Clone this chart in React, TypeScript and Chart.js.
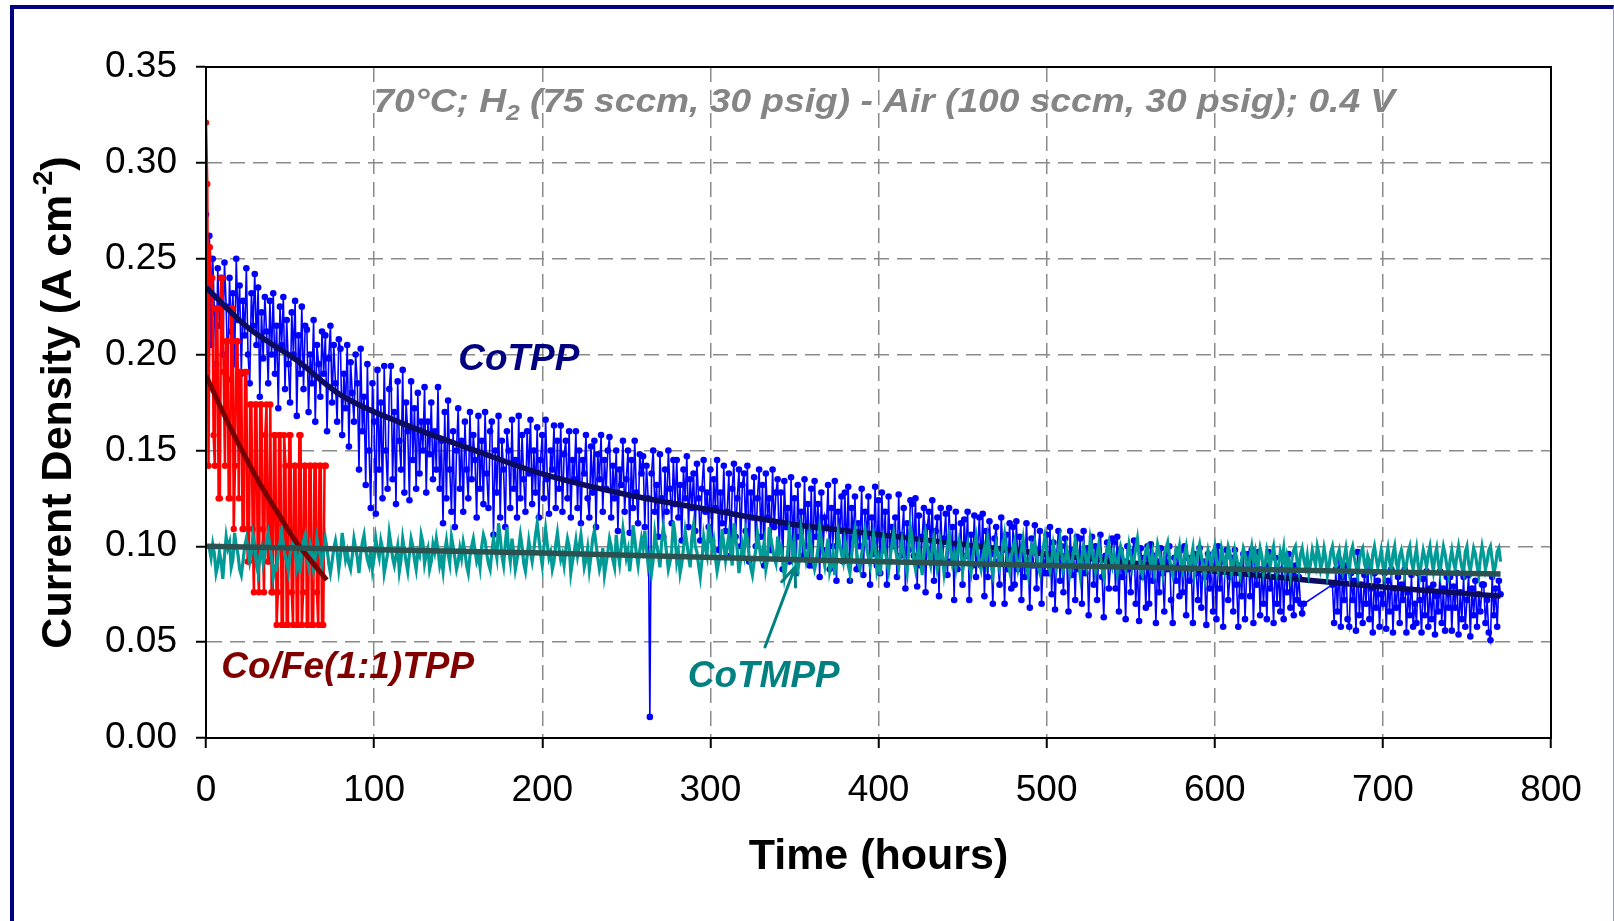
import React, { useEffect, useRef } from "react";
import { Chart, registerables } from "chart.js";

Chart.register(...registerables);

// ---------- axis settings ----------
const xMin = 0;
const xMax = 800;
const xStep = 100;
const yMin = 0;
const yMax = 0.35;
const yStep = 0.05;

const xTitle = "Time (hours)";
const yTitleMain = "Current Density (A cm";
const yTitleSup = "-2";
const yTitleEnd = ")";

// ---------- CoTPP (blue) : mA cm-2, every 1 h from 0 h ----------
const cotppStart = 0;
const cotppStep = 1;
const cotppMA: (number | null)[] = [
  273, 238, 262, 205, 250, 222, 195, 245, 215, 240,
  200, 248, 225, 187, 240, 212, 232, 195, 250, 218,
  236, 190, 228, 210, 245, 200, 185, 232, 215, 242,
  205, 235, 178, 222, 198, 230, 212, 185, 228, 200,
  232, 190, 215, 172, 225, 205, 230, 182, 218, 195,
  175, 222, 200, 228, 168, 210, 190, 225, 182, 215,
  213, 170, 200, 185, 218, 165, 205, 195, 178, 212,
  190, 210, 160, 198, 215, 175, 205, 185, 165, 208,
  203, 158, 190, 172, 205, 152, 196, 180, 165, 200,
  185, 140, 203, 160, 178, 132, 195, 150, 120, 185,
  165, 117, 192, 140, 175, 125, 194, 150, 130, 182,
  194, 135, 170, 122, 186, 155, 140, 192, 128, 175,
  160, 124, 186, 145, 172, 130, 180, 138, 165, 150,
  183, 128, 165, 148, 175, 135, 160, 140, 183, 130,
  155, 112, 170, 125, 176, 140, 118, 160, 110, 150,
  172, 130, 155, 118, 165, 140, 125, 170, 135, 158,
  145, 115, 168, 130, 155, 122, 170, 138, 120, 160,
  165, 106, 150, 128, 168, 115, 155, 140, 110, 160,
  150, 120, 166, 130, 145, 115, 168, 125, 158, 135,
  118, 160, 138, 166, 122, 150, 128, 162, 115, 145,
  158, 125, 166, 135, 117, 150, 140, 163, 120, 155,
  130, 163, 118, 148, 155, 125, 160, 115, 145, 135,
  160, 120, 150, 112, 145, 138, 158, 125, 115, 152,
  128, 155, 110, 148, 135, 158, 118, 145, 130, 150,
  157, 115, 142, 125, 150, 108, 140, 132, 155, 118,
  135, 150, 107, 145, 120, 155, 128, 112, 148, 138,
  147, 110, 142, 125, 11, 138, 150, 118, 132, 105,
  148, 125, 105, 140, 118, 150, 130, 112, 145, 122,
  145, 115, 132, 103, 140, 125, 147, 110, 135, 120,
  138, 108, 143, 125, 103, 130, 145, 118, 128, 110,
  140, 103, 135, 120, 145, 98, 128, 112, 142, 108,
  118, 138, 95, 130, 143, 105, 125, 140, 100, 132,
  138, 108, 142, 92, 128, 115, 136, 100, 125, 140,
  105, 132, 90, 138, 115, 125, 98, 140, 110, 128,
  135, 98, 128, 88, 134, 110, 120, 92, 136, 102,
  125, 86, 132, 105, 118, 95, 135, 100, 122, 90,
  130, 90, 134, 105, 122, 84, 128, 98, 115, 110,
  132, 88, 120, 100, 134, 82, 118, 108, 126, 92,
  128, 95, 131, 82, 120, 104, 126, 88, 112, 100,
  130, 85, 118, 105, 126, 80, 115, 96, 131, 90,
  124, 86, 128, 98, 118, 80, 126, 92, 110, 100,
  115, 84, 127, 95, 106, 120, 78, 112, 98, 124,
  122, 95, 125, 79, 116, 90, 105, 120, 76, 110,
  118, 98, 124, 82, 108, 115, 74, 120, 92, 104,
  117, 85, 120, 92, 110, 72, 118, 88, 100, 112,
  80, 114, 95, 118, 72, 106, 90, 116, 84, 100,
  115, 90, 117, 74, 108, 84, 113, 96, 70, 104,
  110, 92, 80, 115, 98, 70, 106, 88, 112, 78,
  110, 80, 113, 88, 105, 72, 100, 84, 112, 92,
  68, 104, 90, 111, 78, 98, 108, 70, 96, 86,
  106, 86, 110, 75, 102, 67, 96, 108, 82, 100,
  76, 104, 92, 66, 108, 85, 98, 72, 105, 88,
  104, 70, 108, 86, 99, 64, 94, 105, 80, 100,
  72, 98, 106, 84, 63, 95, 102, 78, 90, 104,
  102, 78, 105, 66, 98, 84, 92, 62, 100, 88,
  76, 97, 103, 70, 90, 61, 99, 84, 94, 68,
  100, 70, 101, 82, 95, 60, 92, 76, 99, 86,
  66, 96, 88, 100, 72, 60, 94, 82, 98, 74,
  98, 76, 100, 64, 94, 82, 90, 60, 96, 86,
  72, 99, 68, 92, 84, 59, 96, 78, 90, 66,
  97, 62, 100, 78, 92, 58, 88, 98, 72, 84,
  94, 66, 98, 80, 58, 90, 74, 96, 62, 86,
  96, 74, 98, 60, 92, 80, 97, 64, 88, 70,
  90, 62, 97, 78, 84, 60, 94, 70, 88, 66,
  95, 62, 92, 76, 96, 68, 86, 64, 90, 72,
  84, 70, 65, 70, null, null, null, null, null, null,
  null, null, null, null, null, null, null, null, null, null,
  80, 60, 88, 66, 93, 58, 84, 72, 90, 62,
  58, 86, 72, 82, 56, 97, 64, 80, 60, 85,
  70, 92, 62, 78, 55, 86, 68, 82, 58, 75,
  70, 86, 57, 82, 66, 88, 55, 78, 68, 84,
  60, 80, 72, 88, 55, 76, 64, 85, 58, 70,
  60, 86, 72, 55, 83, 64, 87, 58, 78, 62,
  80, 54, 74, 66, 87, 60, 78, 56, 84, 68,
  84, 56, 79, 68, 86, 54, 76, 62, 84, 58,
  72, 85, 53, 78, 64, 82, 58, 75, 66, 80,
  80, 60, 72, 55, 51, 84, 64, 78, 58, 82, 75,
];

// ---------- CoTMPP (teal) : mA cm-2, every 1 h from 2 h ----------
const cotmppStart = 2;
const cotmppStep = 1;
const cotmppMA: number[] = [
  99, 94, 101, 96, 86, 90, 97, 92, 83, 95,
  105, 99, 102, 89, 93, 107, 100, 96, 88, 85,
  92, 100, 104, 98, 92, 97, 106, 101, 90, 86,
  95, 99, 91, 96, 103, 107, 100, 94, 84, 89,
  88, 97, 102, 108, 101, 95, 92, 87, 96, 100,
  104, 99, 89, 93, 86, 98, 103, 106, 95, 90,
  101, 97, 88, 94, 104, 99, 95, 90, 97, 104,
  99, 91, 86, 92, 99, 103, 97, 88, 95, 107,
  100, 93, 97, 91, 88, 95, 104, 99, 94, 86,
  96, 102, 106, 98, 93, 90, 99, 88, 94, 104,
  98, 94, 103, 99, 86, 91, 96, 107, 101, 94,
  90, 95, 100, 87, 93, 104, 98, 92, 87, 96,
  104, 100, 93, 88, 97, 95, 106, 102, 91, 96,
  99, 88, 92, 101, 97, 104, 98, 90, 94, 87,
  97, 103, 96, 91, 105, 100, 94, 88, 92, 99,
  94, 102, 97, 90, 86, 95, 100, 104, 98, 92,
  95, 89, 100, 106, 103, 96, 91, 88, 97, 104,
  99, 94, 112, 105, 95, 90, 101, 110, 98, 92,
  104, 97, 88, 93, 99, 106, 100, 91, 87, 95,
  103, 97, 92, 98, 106, 112, 104, 96, 90, 100,
  109, 101, 94, 97, 88, 92, 101, 107, 99, 93,
  96, 90, 98, 104, 100, 86, 92, 97, 103, 95,
  100, 106, 98, 89, 93, 99, 88, 95, 104, 108,
  101, 94, 88, 92, 99, 85, 91, 97, 104, 100,
  93, 89, 106, 97, 91, 100, 109, 102, 94, 98,
  87, 95, 111, 104, 96, 90, 98, 104, 99, 108,
  99, 90, 95, 86, 93, 107, 101, 96, 89, 102,
  110, 104, 96, 88, 92, 98, 113, 106, 92, 97,
  86, 91, 99, 108, 102, 95, 89, 105, 111, 100,
  97, 90, 84, 93, 105, 99, 95, 112, 106, 98,
  103, 94, 87, 92, 96, 109, 101, 93, 100, 106,
  97, 90, 112, 105, 98, 86, 93, 101, 96, 108,
  104, 95, 89, 85, 92, 98, 107, 101, 94, 97,
  102, 88, 93, 110, 104, 99, 94, 91, 105, 97,
  100, 93, 84, 90, 97, 108, 103, 95, 101, 89,
  87, 94, 109, 104, 98, 92, 96, 106, 100, 93,
  88, 92, 99, 110, 103, 95, 90, 98, 104, 87,
  91, 97, 85, 94, 107, 101, 96, 92, 103, 99,
  90, 86, 95, 104, 109, 97, 91, 88, 96, 102,
  108, 99, 94, 90, 97, 106, 100, 88, 93, 85,
  96, 104, 98, 92, 87, 95, 101, 107, 99, 94,
  89, 97, 103, 96, 91, 86, 98, 110, 104, 93,
  88, 95, 100, 92, 85, 97, 107, 101, 94, 90,
  99, 104, 96, 88, 92, 101, 95, 86, 93, 100,
  106, 98, 91, 95, 89, 97, 103, 99, 87, 92,
  96, 101, 90, 86, 94, 100, 105, 97, 92, 88,
  95, 99, 93, 104, 98, 90, 85, 94, 101, 96,
  89, 93, 100, 106, 97, 91, 87, 95, 99, 103,
  94, 88, 92, 98, 104, 96, 90, 85, 93, 100,
  97, 102, 95, 89, 86, 94, 99, 105, 98, 91,
  87, 93, 101, 96, 90, 98, 104, 97, 88, 92,
  99, 94, 86, 91, 97, 103, 98, 92, 85, 95,
  100, 96, 89, 93, 104, 99, 92, 87, 96, 101,
  95, 88, 84, 92, 98, 102, 94, 90, 97, 93,
  86, 95, 100, 97, 91, 88, 94, 101, 96, 89,
  93, 99, 104, 95, 88, 85, 92, 98, 100, 94,
  90, 96, 87, 93, 101, 97, 92, 86, 95, 99,
  102, 94, 89, 85, 92, 98, 95, 100, 91, 87,
  96, 100, 93, 88, 94, 99, 86, 91, 97, 101,
  95, 90, 84, 92, 98, 94, 89, 96, 100, 93,
  87, 91, 99, 95, 88, 93, 100, 97, 86, 90,
  98, 94, 89, 85, 93, 99, 96, 90, 87, 95,
  100, 93, 97, 88, 92, 99, 95, 86, 91, 98,
  94, 89, 96, 100, 92, 86, 90, 97, 93, 99,
  88, 95, 91, 85, 94, 98, 100, 92, 87, 96,
  99, 93, 89, 95, 86, 91, 98, 94, 90, 100,
  96, 88, 92, 99, 94, 85, 90, 97, 100, 93,
  89, 95, 98, 91, 87, 94, 99, 92, 86, 97,
  100, 94, 90, 85, 93, 97, 99, 91, 88, 95,
  92, 86, 96, 100, 94, 89, 93, 98, 90, 85,
  94, 99, 92, 87, 96, 100, 91, 88, 95, 98,
  93, 86, 90, 97, 100, 92, 88, 94, 99, 90,
  85, 92, 98, 94, 89, 96, 100, 93, 87, 95,
  99, 91, 86, 94, 100, 96, 90, 85, 93, 98,
  92, 88, 95, 100, 94, 89, 86, 97, 100, 91,
  87, 93, 99, 96, 90, 85, 94, 100, 95, 88,
  92, 98, 100, 93, 86, 90, 97, 99, 92,
];

// ---------- Co/Fe(1:1)TPP (red) : mA cm-2, every 0.75 h from 0 h ----------
const cofeStart = 0;
const cofeStep = 0.75;
const cofeMA: number[] = [
  321, 289,
  142, 256, 240, 240, 158, 142, 224, 224, 125, 125,
  240, 240, 191, 142, 207, 207, 125, 125, 224, 224,
  109, 142, 207, 207, 125, 191, 191, 109, 109, 191,
  191, 92, 92, 174, 174, 109, 76, 174, 174, 92,
  76, 174, 174, 109, 76, 158, 174, 92, 92, 174,
  76, 76, 158, 158, 59, 76, 158, 158, 59, 59,
  158, 142, 59, 59, 158, 158, 76, 59, 142, 142,
  59, 59, 158, 158, 59, 76, 142, 142, 59, 59,
  142, 142, 59, 59, 142, 142, 76, 59, 142, 142,
  59, 59, 142, 142,
];

// ---------- trend lines: [hours, mA cm-2] ----------
const cotppFit: [number, number][] = [
  [0, 235], [25, 214], [54, 197], [80, 179], [117, 164], [160, 150],
  [199, 138], [250, 127], [300, 119], [353, 111], [377, 108.5],
  [450, 101], [520, 94], [600, 87], [654, 82.4], [710, 78], [770, 74],
];
const cofeFit: [number, number][] = [
  [0, 189], [13.3, 164], [23.2, 147], [33.1, 131], [43, 117],
  [53, 103], [62.9, 92], [71.8, 82.4],
];
const cotmppFit: [number, number][] = [
  [0, 100], [200, 96.5], [353, 93], [500, 90], [650, 87.5], [770, 85.5],
];

// ---------- annotations: [hours, A cm-2] of text baseline-left ----------
const headerAt: [number, number] = [99.6, 0.3267];
const headerRightAt = 707.3;
const cotppLabelAt: [number, number] = [150, 0.192];
const cofeLabelAt: [number, number] = [9.1, 0.0313];
const cotmppLabelAt: [number, number] = [286.5, 0.0266];
const arrowTail: [number, number] = [332.5, 0.0475];
const arrowTip: [number, number] = [350.4, 0.0892];

const FONT = '"Liberation Sans", Arial, Helvetica, sans-serif';

const seriesPts = (vals: (number | null)[], start: number, step: number) =>
  vals.map((v, i) => ({ x: start + i * step, y: v == null ? null : v / 1000 }));
const fitPts = (pairs: [number, number][]) =>
  pairs.map(([h, v]) => ({ x: h, y: v / 1000 }));

const overlayPlugin = {
  id: "overlay",
  afterDatasetsDraw(chart: any) {
    const { ctx, chartArea: a, scales } = chart;
    const x = scales.x;
    const y = scales.y;
    const px = (p: [number, number]) => [x.getPixelForValue(p[0]), y.getPixelForValue(p[1])];
    ctx.save();

    // plot frame
    ctx.strokeStyle = "#000";
    ctx.lineWidth = 2;
    ctx.setLineDash([]);
    ctx.strokeRect(a.left, a.top, a.right - a.left, a.bottom - a.top);

    ctx.textBaseline = "alphabetic";
    ctx.textAlign = "left";

    // header with subscript, stretched horizontally to its width in the picture
    {
      const [hx, hy] = px(headerAt);
      const right = x.getPixelForValue(headerRightAt);
      const big = `italic bold 33px ${FONT}`;
      const small = `italic bold 22px ${FONT}`;
      const p1 = "70°C; H";
      const p3 = " (75 sccm, 30 psig) - Air (100 sccm, 30 psig); 0.4 V";
      ctx.font = big;
      const w1 = ctx.measureText(p1).width;
      const w3 = ctx.measureText(p3).width;
      ctx.font = small;
      const w2 = ctx.measureText("2").width;
      const sx = (right - hx) / (w1 + w2 + w3);
      ctx.save();
      ctx.translate(hx, hy);
      ctx.scale(sx, 1);
      ctx.fillStyle = "#858585";
      ctx.font = big;
      ctx.fillText(p1, 0, 0);
      ctx.font = small;
      ctx.fillText("2", w1, 8);
      ctx.font = big;
      ctx.fillText(p3, w1 + w2, 0);
      ctx.restore();
    }

    ctx.font = `italic bold 37px ${FONT}`;
    {
      const [lx, ly] = px(cotppLabelAt);
      ctx.fillStyle = "#000080";
      ctx.fillText("CoTPP", lx, ly);
    }
    {
      const [lx, ly] = px(cofeLabelAt);
      ctx.fillStyle = "#800000";
      ctx.fillText("Co/Fe(1:1)TPP", lx, ly);
    }
    {
      const [lx, ly] = px(cotmppLabelAt);
      ctx.fillStyle = "#008080";
      ctx.fillText("CoTMPP", lx, ly);
    }

    // arrow
    {
      const [tx, ty] = px(arrowTail);
      const [hx, hy] = px(arrowTip);
      ctx.strokeStyle = "#008080";
      ctx.lineWidth = 3;
      ctx.lineCap = "round";
      ctx.beginPath();
      ctx.moveTo(tx, ty);
      ctx.lineTo(hx, hy);
      const ang = Math.atan2(ty - hy, tx - hx);
      const L = 20;
      const spread = 0.38;
      ctx.moveTo(hx, hy);
      ctx.lineTo(hx + L * Math.cos(ang + spread), hy + L * Math.sin(ang + spread));
      ctx.moveTo(hx, hy);
      ctx.lineTo(hx + L * Math.cos(ang - spread), hy + L * Math.sin(ang - spread));
      ctx.stroke();
    }

    ctx.restore();
  },
  afterDraw(chart: any) {
    const { ctx, chartArea: a } = chart;
    ctx.save();
    ctx.fillStyle = "#000";
    // x title
    ctx.font = `bold 43px ${FONT}`;
    ctx.textAlign = "center";
    ctx.textBaseline = "middle";
    ctx.fillText(xTitle, (a.left + a.right) / 2, a.bottom + 119);

    // y title (rotated, with superscript)
    const cx = 59;
    const cy = (a.top + a.bottom) / 2;
    ctx.translate(cx, cy);
    ctx.rotate(-Math.PI / 2);
    ctx.textAlign = "left";
    ctx.textBaseline = "middle";
    const big = `bold 43px ${FONT}`;
    const small = `bold 27px ${FONT}`;
    ctx.font = big;
    const w1 = ctx.measureText(yTitleMain).width;
    const w3 = ctx.measureText(yTitleEnd).width;
    ctx.font = small;
    const w2 = ctx.measureText(yTitleSup).width;
    let sx = -(w1 + w2 + w3) / 2;
    ctx.font = big;
    ctx.fillText(yTitleMain, sx, 0);
    sx += w1;
    ctx.font = small;
    ctx.fillText(yTitleSup, sx, -14);
    sx += w2;
    ctx.font = big;
    ctx.fillText(yTitleEnd, sx, 0);
    ctx.restore();
  },
};

export default function App() {
  const canvasRef = useRef<HTMLCanvasElement | null>(null);

  useEffect(() => {
    document.body.style.margin = "0";
    document.body.style.overflow = "hidden";
    const canvas = canvasRef.current;
    if (!canvas) return;

    const gridCommon = {
      color: "#8a8a8a",
      lineWidth: 1.5,
      tickLength: 10,
      tickColor: "#000",
      tickWidth: 2,
      tickBorderDash: [],
      drawOnChartArea: true,
    };
    const borderCommon = { display: true, color: "#000", width: 2, dash: [15, 8] };

    const chart = new Chart(canvas, {
      type: "line",
      data: {
        datasets: [
          {
            label: "CoTMPP fit",
            data: fitPts(cotmppFit),
            borderColor: "#2b5150",
            borderWidth: 5.5,
            pointRadius: 0,
            cubicInterpolationMode: "monotone",
            order: 1,
          },
          {
            label: "Co/Fe(1:1)TPP fit",
            data: fitPts(cofeFit),
            borderColor: "#7a0000",
            borderWidth: 5,
            pointRadius: 0,
            cubicInterpolationMode: "monotone",
            order: 2,
          },
          {
            label: "CoTMPP",
            data: seriesPts(cotmppMA, cotmppStart, cotmppStep),
            borderColor: "#009b97",
            borderWidth: 3.2,
            pointRadius: 0,
            tension: 0,
            order: 3,
          },
          {
            label: "CoTPP fit",
            data: fitPts(cotppFit),
            borderColor: "#0b0b60",
            borderWidth: 5.5,
            pointRadius: 0,
            cubicInterpolationMode: "monotone",
            order: 4,
          },
          {
            label: "Co/Fe(1:1)TPP",
            data: seriesPts(cofeMA, cofeStart, cofeStep),
            borderColor: "#ff0000",
            backgroundColor: "#ff0000",
            borderWidth: 2.5,
            pointRadius: 3.2,
            pointBorderWidth: 0,
            pointBackgroundColor: "#ff0000",
            tension: 0,
            order: 5,
          },
          {
            label: "CoTPP",
            data: seriesPts(cotppMA, cotppStart, cotppStep),
            borderColor: "#0000ff",
            backgroundColor: "#0000ff",
            borderWidth: 1.6,
            pointRadius: 3.3,
            pointBorderWidth: 0,
            pointBackgroundColor: "#0000ff",
            tension: 0,
            spanGaps: true,
            order: 6,
          },
        ],
      },
      options: {
        animation: false,
        responsive: false,
        maintainAspectRatio: false,
        devicePixelRatio: 1,
        events: [],
        layout: { padding: { left: 0, top: 67, right: 63, bottom: 0 } },
        plugins: {
          legend: { display: false },
          tooltip: { enabled: false },
          title: { display: false },
        },
        scales: {
          x: {
            type: "linear",
            min: xMin,
            max: xMax,
            ticks: {
              stepSize: xStep,
              color: "#000",
              font: { family: FONT, size: 37 },
              padding: 21,
              maxRotation: 0,
            },
            grid: gridCommon,
            border: borderCommon,
            afterFit: (s: any) => {
              s.height = 183;
            },
          },
          y: {
            type: "linear",
            min: yMin,
            max: yMax,
            ticks: {
              stepSize: yStep,
              color: "#000",
              font: { family: FONT, size: 37 },
              padding: 19,
              callback: (v: any) => Number(v).toFixed(2),
            },
            grid: gridCommon,
            border: borderCommon,
            afterFit: (s: any) => {
              s.width = 206;
            },
          },
        },
      } as any,
      plugins: [overlayPlugin],
    });

    return () => chart.destroy();
  }, []);

  return (
    <div
      style={{
        position: "absolute",
        left: 0,
        top: 0,
        width: 1614,
        height: 921,
        background: "#fff",
        overflow: "hidden",
      }}
    >
      <div
        style={{
          position: "absolute",
          left: 10,
          top: 5,
          width: 1604,
          height: 916,
          boxSizing: "border-box",
          borderLeft: "4px solid #000080",
          borderTop: "4px solid #000080",
          borderRight: "1px solid #9a9ac8",
        }}
      />
      <canvas
        ref={canvasRef}
        width={1614}
        height={921}
        style={{ position: "absolute", left: 0, top: 0, display: "block" }}
      />
    </div>
  );
}
